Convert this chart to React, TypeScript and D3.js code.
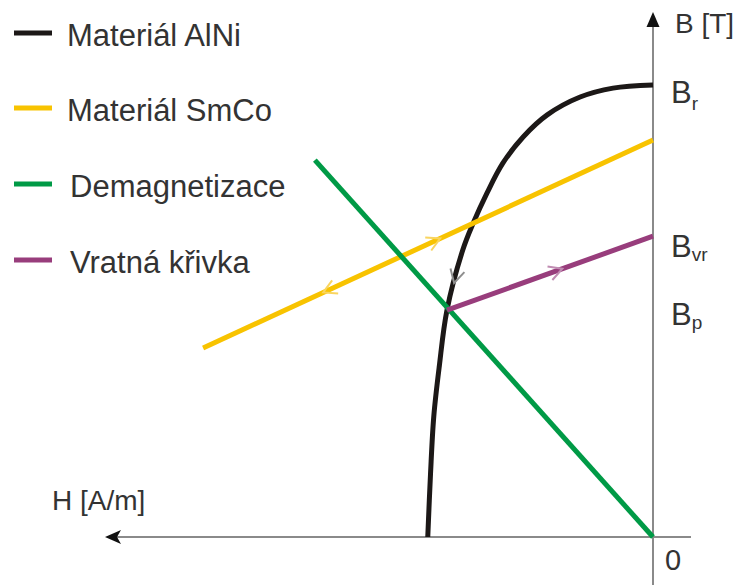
import React from "react";
import * as d3 from "d3";

// H [A/m] (negative, to the left) and B [T] in arbitrary units
const alniH = [-41.1, -40.6, -40.0, -39.0, -37.6, -34.7, -32.8, -30.3, -27.4, -23.7, -19.3, -13.3, -7.3, 0];
const alniB = [0, 12.0, 23.0, 32.5, 43.2, 54.7, 59.8, 65.5, 71.2, 76.2, 80.4, 83.8, 85.5, 86.1];
const smcoH = [-82.1, 0];
const smcoB = [36.0, 75.6];
const demagH = [-61.7, 0];
const demagB = [71.8, 0];
const recoilH = [-37.6, 0];
const recoilB = [43.2, 57.3];

const legendLabels = ["Materiál AlNi", "Materiál SmCo", "Demagnetizace", "Vratná křivka"];
const colors = ["#1c1817", "#f8c300", "#009a46", "#983d7c"];
const arrowColors = ["#8f8f8f", "#f9d560", "#7fcf9f", "#c08cb2"];

const W = 742;
const H = 585;
const x = d3.scaleLinear().domain([-100, 0]).range([105, 653]);
const y = d3.scaleLinear().domain([0, 100]).range([537, 12]);

type P = [number, number];
const toPts = (hs: number[], bs: number[]): P[] => hs.map((h, i) => [x(h), y(bs[i])]);

const chevron = (a: P, b: P, t: number, len = 15, ang = 0.5) => {
  const tip: P = [a[0] + (b[0] - a[0]) * t, a[1] + (b[1] - a[1]) * t];
  const L = Math.hypot(b[0] - a[0], b[1] - a[1]);
  const d: P = [(b[0] - a[0]) / L, (b[1] - a[1]) / L];
  const n: P = [-d[1], d[0]];
  const c = Math.cos(ang), s = Math.sin(ang);
  const p1: P = [tip[0] - len * (c * d[0] + s * n[0]), tip[1] - len * (c * d[1] + s * n[1])];
  const p2: P = [tip[0] - len * (c * d[0] - s * n[0]), tip[1] - len * (c * d[1] - s * n[1])];
  return `M${p1[0]},${p1[1]}L${tip[0]},${tip[1]}L${p2[0]},${p2[1]}`;
};

export default function App() {
  const line = d3.line<P>().x((d) => d[0]).y((d) => d[1]);
  const curve = d3.line<P>().x((d) => d[0]).y((d) => d[1]).curve(d3.curveCatmullRom.alpha(0.5));

  const alni = toPts(alniH, alniB);
  const smco = toPts(smcoH, smcoB);
  const demag = toPts(demagH, demagB);
  const recoil = toPts(recoilH, recoilB);

  const x0 = x(0);
  const y0 = y(0);
  const font = "'Liberation Sans', Arial, sans-serif";
  const txt = "#333";

  const legendY = [33, 108, 184, 260];

  return (
    <svg width={W} height={H} style={{ position: "absolute", left: 0, top: 0 }} fontFamily={font}>
      <rect width={W} height={H} fill="#fff" />
      {/* axes */}
      <line x1={x(-100) + 4} x2={x0 + 38} y1={y0} y2={y0} stroke="#8a8a8a" strokeWidth={2} />
      <line x1={x0} x2={x0} y1={y(100) + 6} y2={H} stroke="#8a8a8a" strokeWidth={2} />
      <path d={`M${x(-100)},${y0}L${x(-100) + 16},${y0 - 7}L${x(-100) + 12},${y0}L${x(-100) + 16},${y0 + 7}Z`} fill="#111" />
      <path d={`M${x0},${y(100)}L${x0 - 6.5},${y(100) + 15}L${x0 + 6.5},${y(100) + 15}Z`} fill="#111" />

      {/* curves */}
      <path d={curve(alni) || ""} fill="none" stroke={colors[0]} strokeWidth={5} />
      <path d={line(smco) || ""} fill="none" stroke={colors[1]} strokeWidth={5} />
      <path d={line(demag) || ""} fill="none" stroke={colors[2]} strokeWidth={5} />
      <path d={line(recoil) || ""} fill="none" stroke={colors[3]} strokeWidth={5} />

      {/* direction chevrons */}
      <path d={chevron(smco[0], smco[1], 0.527)} fill="none" stroke={arrowColors[1]} strokeWidth={2} />
      <path d={chevron(smco[1], smco[0], 0.733)} fill="none" stroke={arrowColors[1]} strokeWidth={2} />
      <path d={chevron(recoil[0], recoil[1], 0.56)} fill="none" stroke={arrowColors[3]} strokeWidth={2} />
      <path d={chevron(alni[5], alni[4], 0.55)} fill="none" stroke={arrowColors[0]} strokeWidth={2} />

      {/* axis labels */}
      <text x={x0 + 22} y={33} fontSize={28} fill={txt}>B [T]</text>
      <text x={52} y={510} fontSize={28} fill={txt}>H [A/m]</text>
      <text x={x0 + 12} y={y0 + 33} fontSize={29} fill={txt}>0</text>
      <text x={x0 + 18} y={y(alniB[alniB.length - 1]) + 18} fontSize={31} fill={txt}>
        B<tspan fontSize={19} dy={7}>r</tspan>
      </text>
      <text x={x0 + 18} y={y(recoilB[1]) + 21} fontSize={31} fill={txt}>
        B<tspan fontSize={19} dy={4}>vr</tspan>
      </text>
      <text x={x0 + 18} y={y(recoilB[0]) + 15} fontSize={31} fill={txt}>
        B<tspan fontSize={19} dy={4}>p</tspan>
      </text>

      {/* legend */}
      {legendLabels.map((lab, i) => (
        <g key={lab}>
          <line x1={14} x2={52} y1={legendY[i]} y2={legendY[i]} stroke={colors[i]} strokeWidth={5} />
          <text x={i < 2 ? 67 : 70} y={legendY[i] + 13} fontSize={31} fill={txt}>{lab}</text>
        </g>
      ))}
    </svg>
  );
}
